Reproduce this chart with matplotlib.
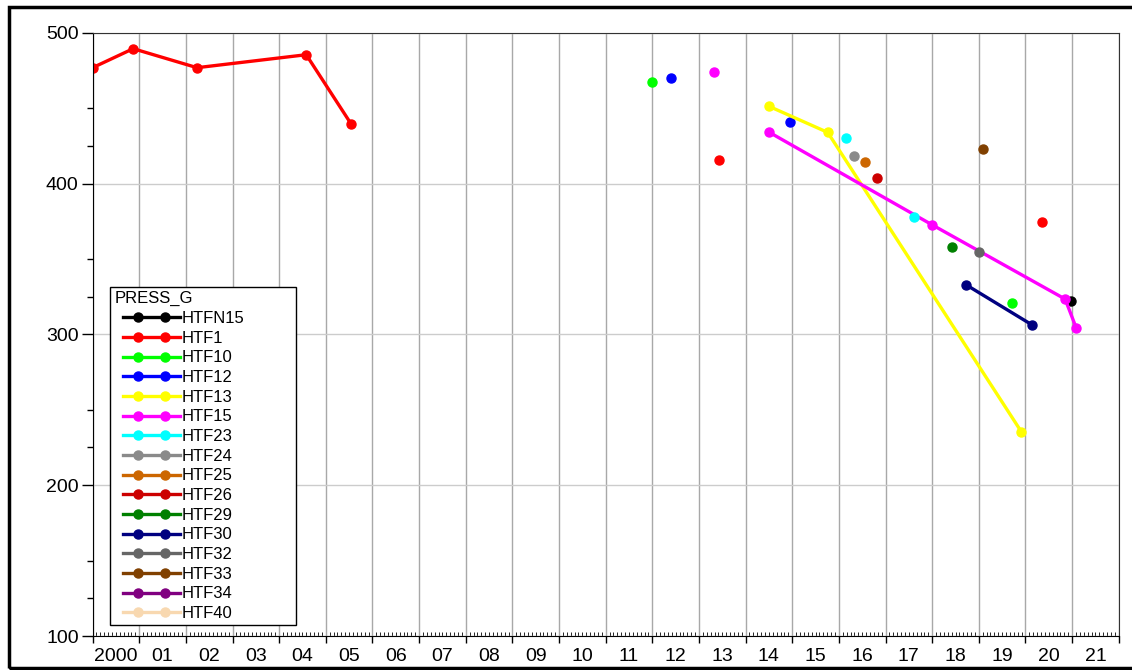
import numpy as np
import matplotlib.pyplot as plt
from matplotlib.patches import Rectangle
from matplotlib.legend_handler import HandlerLine2D
from matplotlib.lines import Line2D

plt.rcParams['font.family'] = ['Liberation Sans', 'DejaVu Sans']

nan = np.nan

# Pressure readings per well, time as decimal year (nan = break in the line)
htfn15_x = [2020.97]
htfn15_y = [321.8]
htf1_x = [2000.0, 2000.87, 2002.24, 2004.58, 2005.54, nan, 2013.42, nan, 2020.36]
htf1_y = [476.8, 489.4, 476.8, 485.4, 439.6, nan, 415.8, nan, 374.4]
htf10_x = [2012.0, nan, 2019.71]
htf10_y = [467.0, nan, 320.9]
htf12_x = [2012.40, nan, 2014.96]
htf12_y = [470.1, nan, 441.0]
htf13_x = [2014.50, 2015.76, 2019.91]
htf13_y = [451.2, 433.9, 235.5]
htf15_x = [2013.33, nan, 2014.50, 2018.00, 2020.85, 2021.09]
htf15_y = [474.1, nan, 434.1, 372.6, 323.4, 304.1]
htf23_x = [2016.15, nan, 2017.60]
htf23_y = [430.1, nan, 378.1]
htf24_x = [2016.33]
htf24_y = [418.0]
htf25_x = [2016.55]
htf25_y = [414.2]
htf26_x = [2016.82]
htf26_y = [403.4]
htf29_x = [2018.42]
htf29_y = [357.6]
htf30_x = [2018.73, 2020.14]
htf30_y = [332.8, 306.3]
htf32_x = [2019.01]
htf32_y = [354.9]
htf33_x = [2019.08]
htf33_y = [423.0]
htf34_x = []
htf34_y = []
htf40_x = []
htf40_y = []

series = [
    ('HTFN15', htfn15_x, htfn15_y, '#000000'),
    ('HTF1', htf1_x, htf1_y, '#ff0000'),
    ('HTF10', htf10_x, htf10_y, '#00ff00'),
    ('HTF12', htf12_x, htf12_y, '#0000ff'),
    ('HTF13', htf13_x, htf13_y, '#ffff00'),
    ('HTF15', htf15_x, htf15_y, '#ff00ff'),
    ('HTF23', htf23_x, htf23_y, '#00ffff'),
    ('HTF24', htf24_x, htf24_y, '#8a8a8a'),
    ('HTF25', htf25_x, htf25_y, '#cc6600'),
    ('HTF26', htf26_x, htf26_y, '#cc0000'),
    ('HTF29', htf29_x, htf29_y, '#008000'),
    ('HTF30', htf30_x, htf30_y, '#000080'),
    ('HTF32', htf32_x, htf32_y, '#666666'),
    ('HTF33', htf33_x, htf33_y, '#804000'),
    ('HTF34', htf34_x, htf34_y, '#800080'),
    ('HTF40', htf40_x, htf40_y, '#f8d8b0'),
]

years = list(range(2000, 2022))
year_labels = ['2000'] + ['%02d' % (y % 100) for y in years[1:]]


class LineTwoMarkers(HandlerLine2D):
    """Legend key: line runs to the text, two markers set inside it."""
    def get_xdata(self, legend, xdescent, ydescent, width, height, fontsize):
        x0 = -xdescent
        xs = np.array([x0 + 0.14 * width, x0 + 0.36 * width,
                       x0 + 0.77 * width, x0 + width])
        return xs, xs

    def create_artists(self, *args, **kwargs):
        arts = super().create_artists(*args, **kwargs)
        for a in arts:
            a.set_markevery([1, 2])
        return arts


fig = plt.figure(figsize=(11.32, 6.70), dpi=100)
ax = fig.add_axes([0.0818, 0.0507, 0.9065, 0.9005])

# outer frame around the whole chart
fig.patches.append(Rectangle((0.008, 0.003), 1.2, 0.9866, transform=fig.transFigure,
                             fill=False, edgecolor='black', linewidth=2.5))

for name, xs, ys, col in series:
    ax.plot(xs, ys, color=col, lw=2.4, marker='o', ms=6.5, label=name)

ax.set_xlim(2000, 2022)
ax.set_ylim(100, 500)

# year boundaries as grid, monthly minor ticks
ax.set_xticks(np.arange(2000, 2023))
ax.set_xticklabels([])
ax.set_xticks(np.arange(2000, 2022, 1 / 12), minor=True)
ax.tick_params(axis='x', which='major', direction='out', length=5, width=1)
ax.tick_params(axis='x', which='minor', direction='in', length=3, width=0.6)
for y, lab in zip(years, year_labels):
    ax.text(y + 0.5, -0.02, lab, transform=ax.get_xaxis_transform(),
            ha='center', va='top', fontsize=14)

ax.set_yticks([100, 200, 300, 400, 500])
ax.set_yticks([125, 150, 225, 250, 325, 350, 425, 450], minor=True)
ax.tick_params(axis='y', which='major', direction='out', length=8, width=1,
               labelsize=14, pad=2)
ax.tick_params(axis='y', which='minor', direction='out', length=4, width=1)

ax.grid(True, axis='x', which='major', color='#a8a8a8', lw=1)
ax.grid(True, axis='y', which='major', color='#cccccc', lw=1)
ax.set_axisbelow(True)
for side in ['left', 'bottom']:
    ax.spines[side].set_color('black')
for side in ['top', 'right']:
    ax.spines[side].set_color('#333333')

leg = ax.legend(title='PRESS_G', loc='lower left', bbox_to_anchor=(0.017, 0.018, 0.181, 0.5),
                mode='expand', borderaxespad=0, fontsize=12, title_fontsize=12,
                frameon=True, fancybox=False, edgecolor='black', framealpha=1,
                borderpad=0.25, labelspacing=0.28, handlelength=3.96, handletextpad=0.1,
                alignment='left', numpoints=2,
                handler_map={Line2D: LineTwoMarkers()})
leg.get_frame().set_linewidth(1)

fig.savefig('out.png', dpi=100)
